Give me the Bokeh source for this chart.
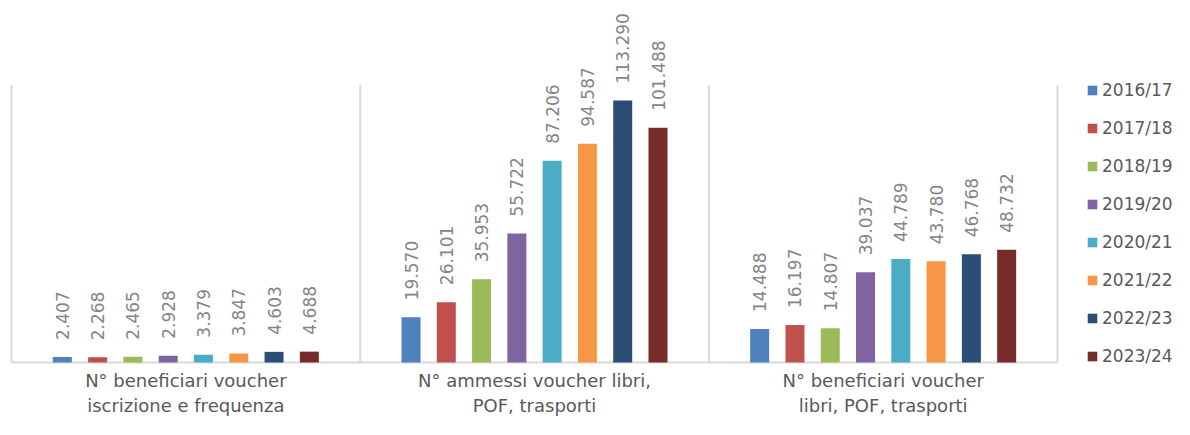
import math
from bokeh.plotting import figure
from bokeh.models import Range1d, ColumnDataSource, Legend, LegendItem
from bokeh.core.properties import value
from bokeh.embed import file_html
from bokeh.resources import INLINE

categories = ["N° beneficiari voucher\niscrizione e frequenza",
              "N° ammessi voucher libri,\nPOF, trasporti",
              "N° beneficiari voucher\nlibri, POF, trasporti"]
years = ["2016/17", "2017/18", "2018/19", "2019/20", "2020/21", "2021/22", "2022/23", "2023/24"]
colors = ["#4f81bd", "#c0504d", "#9bbb59", "#8064a2", "#4bacc6", "#f79646", "#2c4d75", "#772c2a"]
v_iscrizione = [2407, 2268, 2465, 2928, 3379, 3847, 4603, 4688]
v_ammessi = [19570, 26101, 35953, 55722, 87206, 94587, 113290, 101488]
v_beneficiari = [14488, 16197, 14807, 39037, 44789, 43780, 46768, 48732]
series = [v_iscrizione, v_ammessi, v_beneficiari]
axis_top = 120000

W, H = 1174, 419
px_per_x = 348.67
px_per_y = 0.002313
x0_px = 11
base_px = 362

p = figure(width=W, height=H, output_backend="svg", toolbar_location=None,
           x_range=Range1d(-x0_px / px_per_x, 3 + (W - x0_px - 3 * px_per_x) / px_per_x),
           y_range=Range1d(-(H - base_px) / px_per_y, base_px / px_per_y),
           min_border=0, min_border_left=0, min_border_right=0, min_border_top=0, min_border_bottom=0,
           x_axis_location=None, y_axis_location=None)
p.outline_line_color = None
p.xgrid.visible = False
p.ygrid.visible = False
p.background_fill_color = "white"
p.border_fill_color = "white"

n = len(years)
pitch = 0.1012
bw = 0.0545
ncat = len(categories)

# separators & baseline
p.segment(x0=list(range(ncat + 1)), y0=[0] * (ncat + 1), x1=list(range(ncat + 1)), y1=[axis_top] * (ncat + 1),
          line_color="#d9d9d9", line_width=2)
p.segment(x0=[0], y0=[0], x1=[ncat], y1=[0], line_color="#d9d9d9", line_width=2)

items = []
for j, (yr, col) in enumerate(zip(years, colors)):
    xs = [i + 0.5 + (j - (n - 1) / 2) * pitch for i in range(ncat)]
    vals = [series[i][j] for i in range(ncat)]
    labels = [f"{v:,}".replace(",", ".") for v in vals]
    src = ColumnDataSource(dict(x=xs, top=vals, lab=labels))
    r = p.vbar(x="x", top="top", width=bw, bottom=0, source=src, fill_color=col, line_color=None)
    p.text(x="x", y="top", text="lab", source=src, angle=math.pi / 2, text_align="left",
           text_baseline="middle", y_offset=-17, text_font=value("DejaVu Sans"),
           text_font_size="17px", text_color="#858585")
    items.append(LegendItem(label=yr, renderers=[r]))

p.text(x=[i + 0.5 for i in range(ncat)], y=[0] * ncat, text=categories, text_align="center",
       text_baseline="top", y_offset=7, text_font=value("DejaVu Sans"), text_font_size="18px",
       text_color="#595959", text_line_height=1.2)

legend = Legend(items=items, location=(1086, 51), orientation="vertical")
legend.margin = 0
legend.padding = 0
legend.border_line_alpha = 0
legend.background_fill_alpha = 0
legend.glyph_width = 12
legend.glyph_height = 12
legend.label_height = 24
legend.spacing = 14
legend.label_standoff = 4
legend.label_text_font = "DejaVu Sans"
legend.label_text_font_size = "17px"
legend.label_text_color = "#595959"
p.add_layout(legend, "center")

open("out.html", "w").write(file_html(p, INLINE))
